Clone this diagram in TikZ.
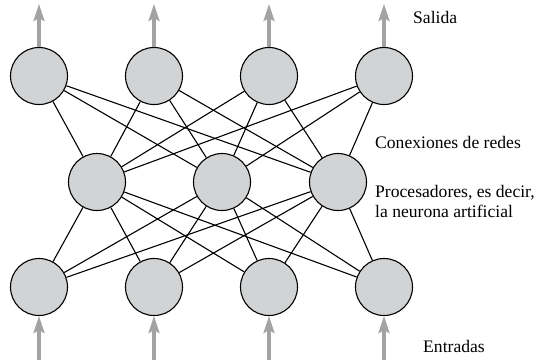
\documentclass[tikz,border=0pt]{standalone}
\usepackage{fontspec}
\setmainfont{Liberation Serif}
\usetikzlibrary{arrows.meta}
\definecolor{nfill}{HTML}{D1D3D4}
\definecolor{agray}{HTML}{A3A3A5}
\tikzset{
  neuron/.style={circle, draw=black, line width=1.1pt, fill=nfill, minimum size=57pt, inner sep=0pt},
  conn/.style={line width=1.1pt, black},
  flow/.style={line width=3.2pt, agray, -{Stealth[length=17pt, width=11pt, inset=3pt]}},
  lbl/.style={anchor=base west, font=\fontsize{17.6}{20}\selectfont, inner sep=0pt}
}
\begin{document}
\begin{tikzpicture}[x=1pt,y=-1pt]
\useasboundingbox (0,0) rectangle (540,360);
% bottom layer
\foreach \i/\x in {1/39,2/154,3/269,4/384} {
  \node[neuron] (b\i) at (\x,287) {};
}
% middle layer
\foreach \i/\x in {1/97,2/222,3/338} {
  \node[neuron] (m\i) at (\x,182) {};
}
% top layer
\foreach \i/\x in {1/39,2/154,3/269,4/384} {
  \node[neuron] (t\i) at (\x,76) {};
}
% connections
\foreach \a in {1,2,3,4} {
  \foreach \m in {1,2,3} {
    \draw[conn] (t\a) -- (m\m);
    \draw[conn] (b\a) -- (m\m);
  }
}
% arrows
\foreach \i/\x in {1/39,2/154,3/269,4/384} {
  \coordinate (o\i) at (\x,4);
  \coordinate (in\i) at (\x,360);
  \draw[flow] (t\i.north) -- (o\i);
  \draw[flow] (in\i) -- (b\i.south);
}
% labels
\node[lbl] (salida) at (413,23) {Salida};
\node[lbl] (conex) at (375,148) {Conexiones de redes};
\node[lbl] (proc) at (375,197) {Procesadores, es decir,};
\node[lbl] (neur) at (375,217) {la neurona artificial};
\node[lbl] (entr) at (423,352) {Entradas};
\end{tikzpicture}
\end{document}
